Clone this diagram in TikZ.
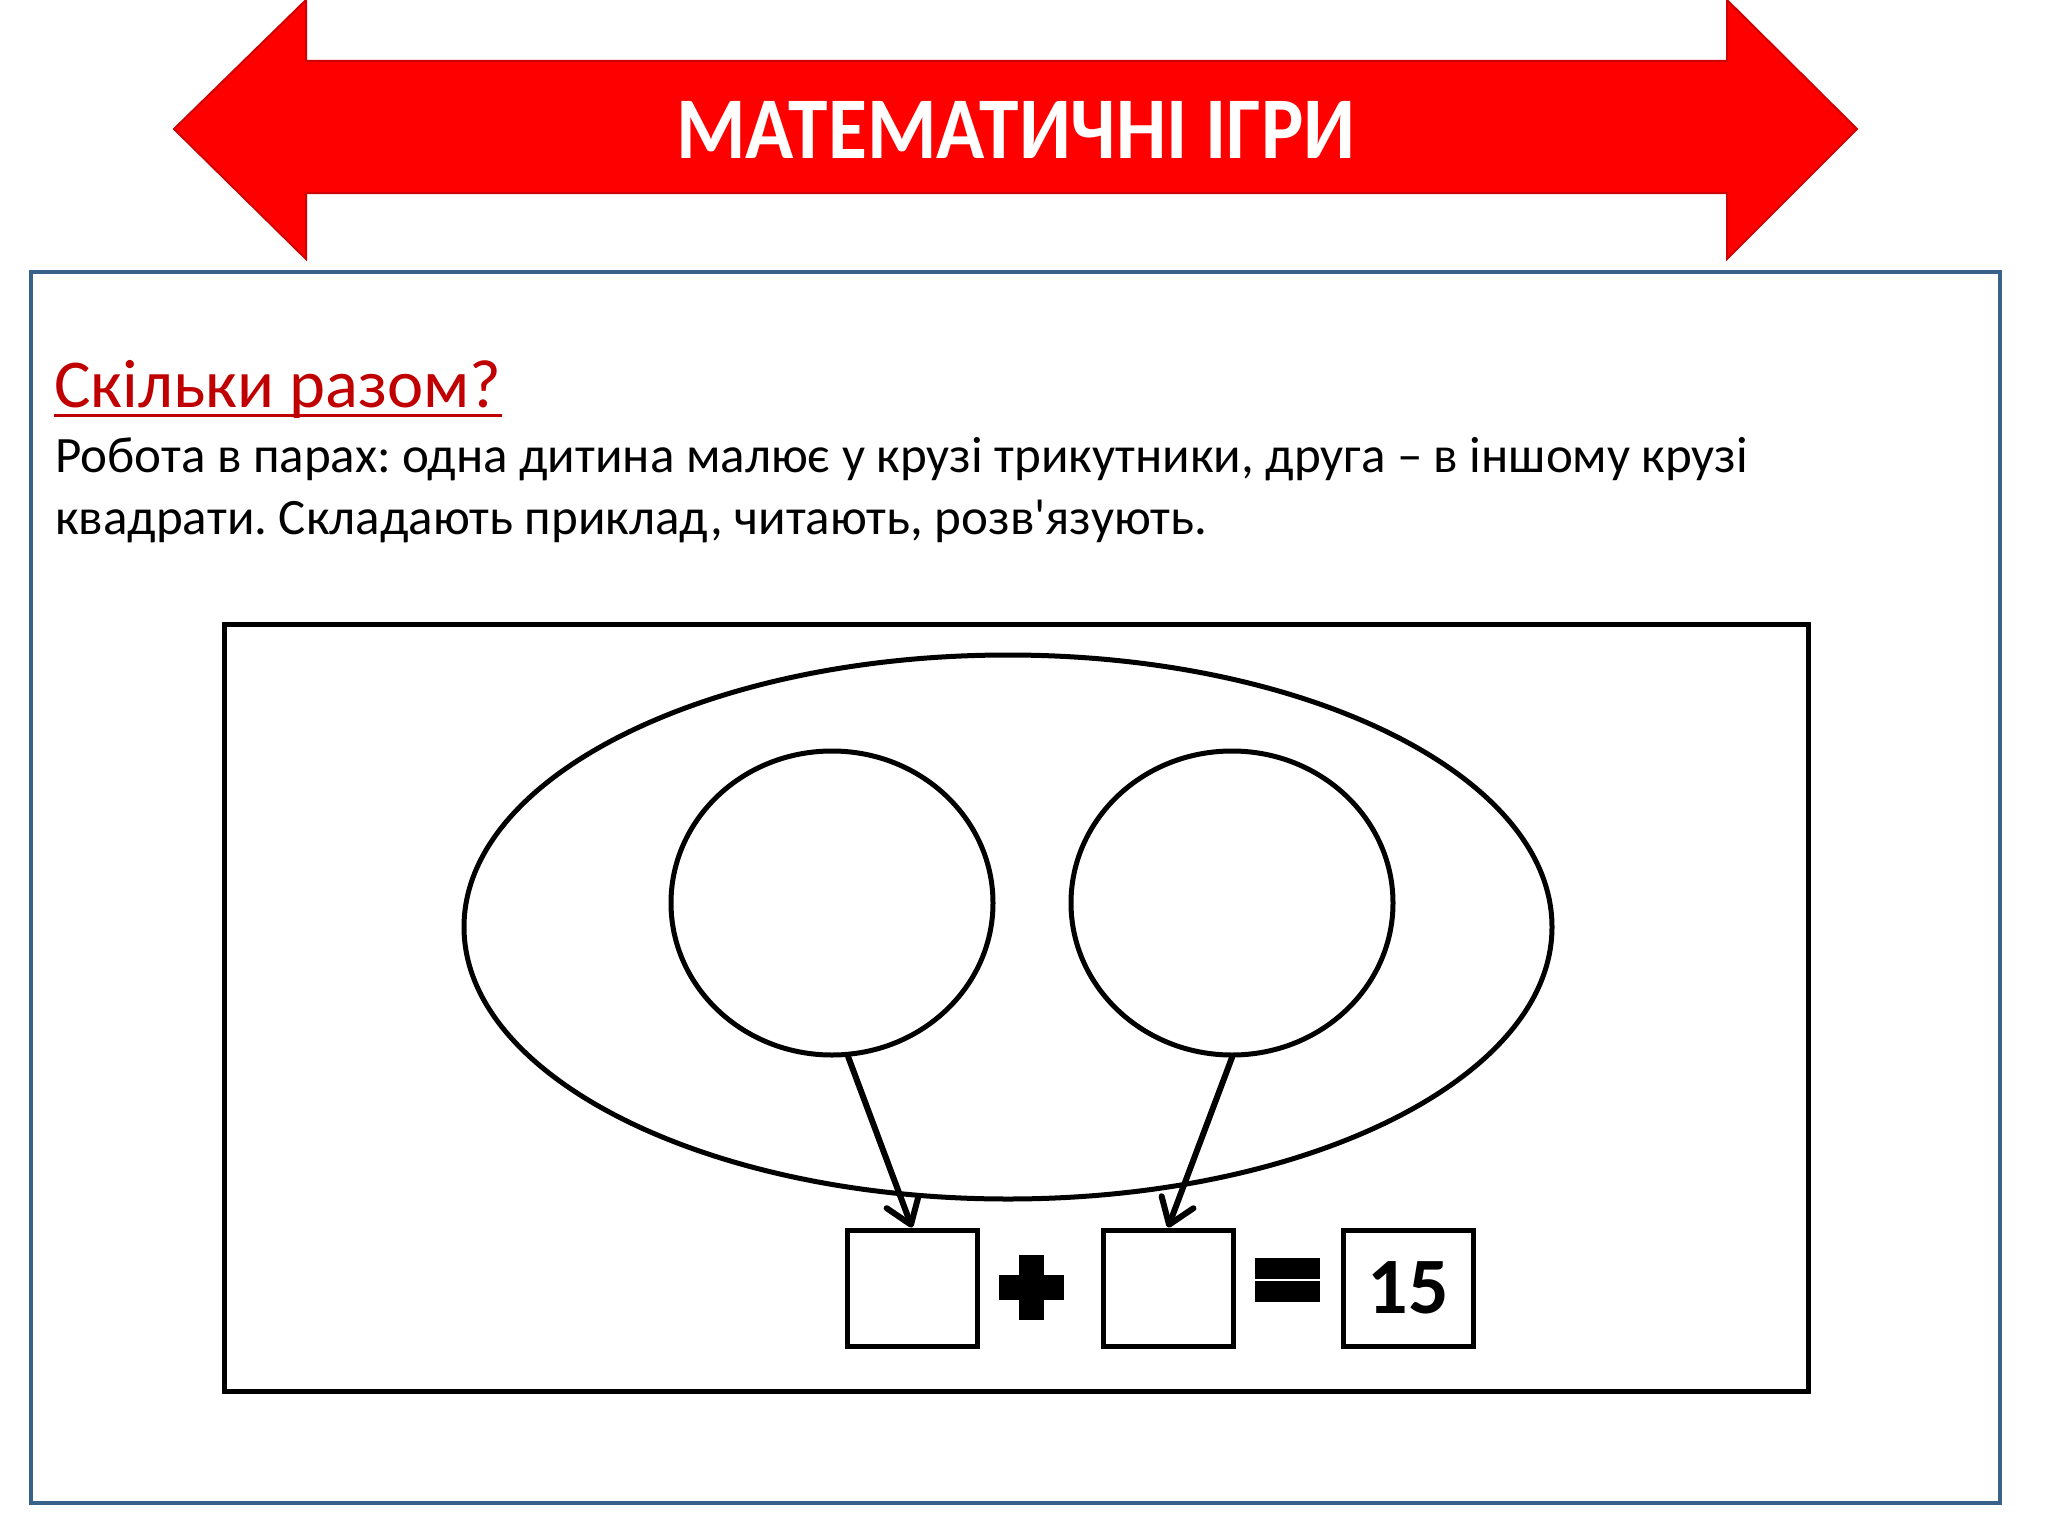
\documentclass[tikz,border=0pt]{standalone}
\usepackage{fontspec}
\usepackage{graphicx}
\setmainfont{Carlito}
\frenchspacing
\usetikzlibrary{shapes.geometric,arrows.meta,calc}
\definecolor{framblue}{HTML}{3A6189}
\definecolor{darkred}{HTML}{C00000}
\definecolor{arrowred}{HTML}{FF0000}
\definecolor{edgered}{HTML}{D00000}
\begin{document}
\begin{tikzpicture}[x=1pt,y=-1pt,
  outline/.style={draw=black, line width=5pt},
  ring/.style={outline, ellipse, inner sep=0pt, minimum width=322pt, minimum height=304pt},
  answerbox/.style={outline, rectangle, inner sep=0pt, minimum width=130pt, minimum height=116pt, font=\fontsize{80}{96}\selectfont\bfseries},
  arr/.style={line width=6pt, line cap=round, -{Straight Barb[length=24pt,width=34pt,line width=6pt,line cap=round,line join=round]}},
  bodytext/.style={anchor=base west, inner sep=0pt, font=\fontsize{51}{60}\selectfont}
]
\useasboundingbox (0,0) rectangle (2048,1536);
\fill[white] (0,0) rectangle (2048,1536);

% banner arrow
\draw[fill=arrowred, draw=edgered, line width=2pt, line join=miter]
  (174,129) -- (306,0) -- (306,61) -- (1727,61) -- (1727,0) -- (1857,129)
  -- (1727,259) -- (1727,193) -- (306,193) -- (306,259) -- cycle;
\node[font=\fontsize{88}{100}\selectfont\bfseries, text=white, inner sep=0pt] (banner) at (1016,130) {\scalebox{0.905}[1]{МАТЕМАТИЧНІ ІГРИ}};

% frame
\draw[framblue, line width=4pt] (31,272) rectangle (2000,1503);

% texts
\node[anchor=base west, inner sep=0pt, text=darkred, font=\fontsize{68.5}{82}\selectfont] (title) at (54,407) {Скільки разом?};
\draw[darkred, line width=3.5pt] ($(title.base west)+(0,8.5)$) -- ($(title.base east)+(0,8.5)$);
\node[bodytext] (l1) at (55,472) {Робота в парах: одна дитина малює у крузі трикутники, друга – в іншому крузі};
\node[bodytext] (l2) at (55,534) {квадрати. Складають приклад, читають, розв\textquotesingle язують.};

% inner frame
\draw[line width=5pt] (224,624) rectangle (1808,1391);

% ellipse and circles
\node[outline, ellipse, inner sep=0pt, minimum width=1088pt, minimum height=544pt] (big) at (1008,927) {};
\node[ring] (c1) at (832,903) {};
\node[ring] (c2) at (1232,903) {};

% boxes
\node[answerbox] (box1) at (912,1288) {};
\node[answerbox] (box2) at (1168,1288) {};
\node[answerbox] (box3) at (1408,1288) {15};

% plus and equals
\fill[black] (1019,1255) rectangle (1044,1320);
\fill[black] (999,1275) rectangle (1064,1300);
\fill[black] (1255,1258) rectangle (1320,1279);
\fill[black] (1255,1281) rectangle (1320,1302);

% arrows
\draw[arr] (c1.-84) -- (box1.north);
\draw[arr] (c2.south) -- (box2.north);
\end{tikzpicture}
\end{document}
